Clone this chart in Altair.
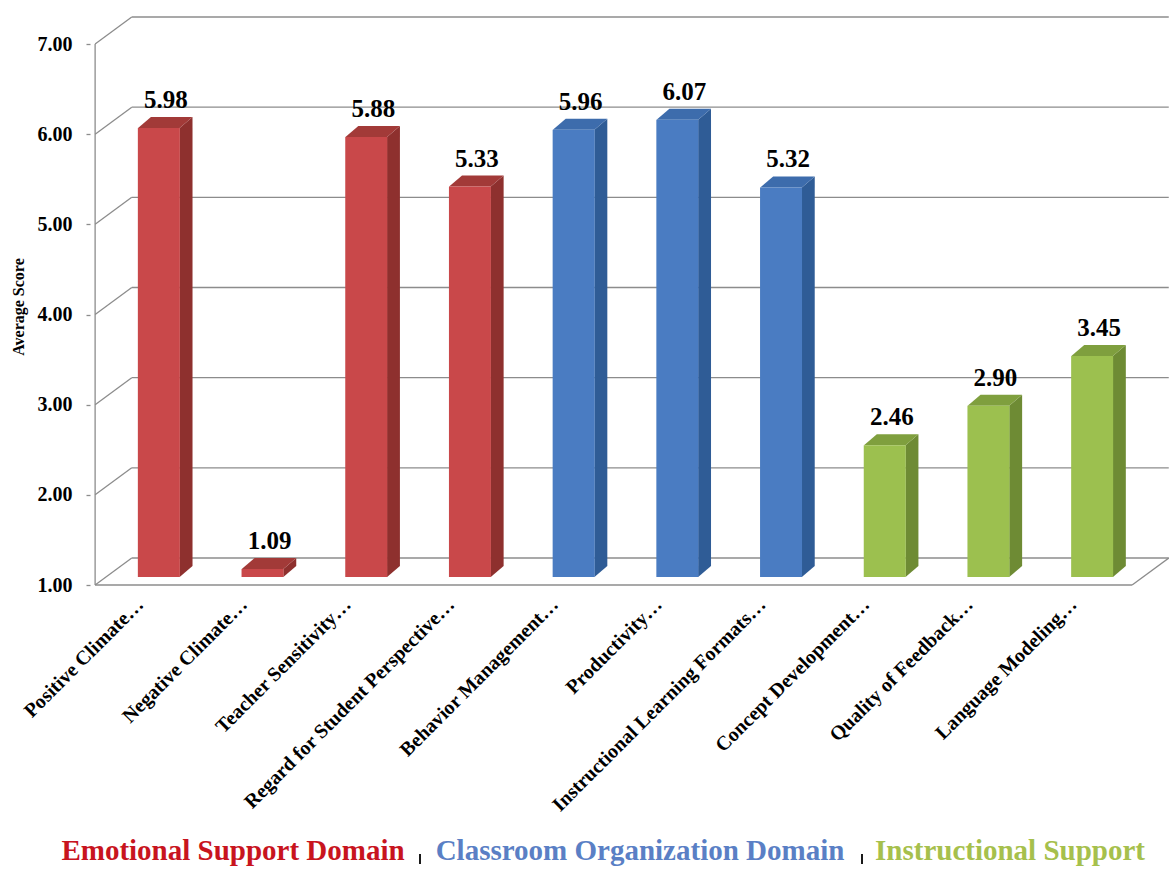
import json
import altair as alt
import pandas as pd

# ---- data ----
categories = [
    "Positive Climate…", "Negative Climate…", "Teacher Sensitivity…",
    "Regard for Student Perspective…", "Behavior Management…", "Productivity…",
    "Instructional Learning Formats…", "Concept Development…",
    "Quality of Feedback…", "Language Modeling…",
]
scores = [5.98, 1.09, 5.88, 5.33, 5.96, 6.07, 5.32, 2.46, 2.90, 3.45]
domains = ["Emotional Support"] * 4 + ["Classroom Organization"] * 3 + ["Instructional Support"] * 3
domain_names = ["Emotional Support", "Classroom Organization", "Instructional Support"]
legend_labels = ["Emotional Support  Domain", "Classroom Organization  Domain", "Instructional Support"]
y_ticks = [1, 2, 3, 4, 5, 6, 7]

# ---- colours ----
front_colors = ["#C9484A", "#4A7CC2", "#9CC04F"]
side_colors = ["#8E302E", "#2F5C96", "#6E8B34"]
top_colors = ["#A23A38", "#3D6CAC", "#7F9F3E"]
legend_colors = ["#C8141E", "#5A7FC5", "#A6C04C"]
grid_color = "#8C8C8C"
SERIF = "Liberation Serif"

# ---- geometry of the bar plane ----
W, H = 1047, 541
Y_MIN, Y_MAX = 1, 7
N = len(categories)
PX_X = W / N                    # pixels per category step
PX_Y = H / (Y_MAX - Y_MIN)      # pixels per score unit


def ux(px):
    return px / PX_X


def uy(px):
    return px / PX_Y


BAR_W = 42          # front face width
DEPTH_X, DEPTH_Y = 13, 11   # bar depth offset (right, up)
FRONT_X, FRONT_Y = -12, 8   # front edge of floor/axis relative to bar plane
BACK_X, BACK_Y = 25, -19    # back wall relative to bar plane

bars = pd.DataFrame({
    "idx": list(range(N)),
    "category": categories,
    "score": scores,
    "domain": domains,
})
bars["base"] = float(Y_MIN)

hw = ux(BAR_W / 2)
dx, dy = ux(DEPTH_X), uy(DEPTH_Y)

side_rows, top_rows = [], []
for i, s, d in zip(range(N), scores, domains):
    r = i + hw
    l = i - hw
    side_rows += [
        {"bar": i, "domain": d, "x": r, "y": s, "y2": Y_MIN},
        {"bar": i, "domain": d, "x": r + dx, "y": s + dy, "y2": Y_MIN + dy},
    ]
    top_rows += [
        {"bar": i, "domain": d, "x": l, "y": s, "y2": s},
        {"bar": i, "domain": d, "x": l + dx, "y": s + dy, "y2": s},
        {"bar": i, "domain": d, "x": r, "y": s + dy, "y2": s},
        {"bar": i, "domain": d, "x": r + dx, "y": s + dy, "y2": s + dy},
    ]
side_df = pd.DataFrame(side_rows)
top_df = pd.DataFrame(top_rows)

# walls, floor and front axis line
fx, fy = ux(FRONT_X), -uy(FRONT_Y)
bx, by = ux(BACK_X), -uy(BACK_Y)
x_lo, x_hi = -0.5, N - 0.5
segs = []
for v in y_ticks:
    segs.append({"x": x_lo + bx, "x2": x_hi + bx, "y": v + by, "y2": v + by})
    segs.append({"x": x_lo + fx, "x2": x_lo + bx, "y": v + fy, "y2": v + by})
segs.append({"x": x_lo + fx, "x2": x_lo + fx, "y": Y_MIN + fy, "y2": Y_MAX + fy})
segs.append({"x": x_lo + fx, "x2": x_hi + fx, "y": Y_MIN + fy, "y2": Y_MIN + fy})
segs.append({"x": x_hi + fx, "x2": x_hi + bx, "y": Y_MIN + fy, "y2": Y_MIN + by})
seg_df = pd.DataFrame(segs)

x_scale = alt.Scale(domain=[x_lo, x_hi], nice=False, zero=False)
y_scale = alt.Scale(domain=[Y_MIN, Y_MAX], nice=False, zero=False)

label_expr = json.dumps(categories, ensure_ascii=False) + "[datum.value]"

x_axis = alt.Axis(
    values=list(range(N)), labelExpr=label_expr, labelAngle=-45,
    labelFont=SERIF, labelFontWeight="bold", labelFontSize=20, labelColor="black",
    ticks=False, domain=False, grid=False, offset=FRONT_Y, tickOffset=FRONT_X + 2,
    labelOffset=-16, labelPadding=9, labelLimit=0,
    labelFlush=False, labelOverlap=False, labelBound=False, title=None,
)
y_axis = alt.Axis(
    values=y_ticks, format=".2f", offset=-FRONT_X, tickOffset=FRONT_Y,
    domain=False, grid=False, tickSize=4, tickColor=grid_color, tickWidth=1.3,
    labelFont=SERIF, labelFontWeight="bold", labelFontSize=20, labelColor="black",
    labelPadding=14, title="Average Score", titleFont=SERIF, titleFontWeight="bold",
    titleFontSize=16, titleColor="black", titlePadding=11,
)

walls = alt.Chart(seg_df).mark_rule(color=grid_color, strokeWidth=1.3).encode(
    x=alt.X("x:Q", scale=x_scale, axis=x_axis),
    x2="x2:Q",
    y=alt.Y("y:Q", scale=y_scale, axis=y_axis),
    y2="y2:Q",
)

sides = alt.Chart(side_df).mark_area(orient="vertical").encode(
    x=alt.X("x:Q", scale=x_scale, axis=x_axis),
    y=alt.Y("y:Q", scale=y_scale, axis=y_axis),
    y2="y2:Q",
    detail="bar:N",
    color=alt.Color("domain:N", scale=alt.Scale(domain=domain_names, range=side_colors), legend=None),
)

tops = alt.Chart(top_df).mark_area(orient="vertical").encode(
    x=alt.X("x:Q", scale=x_scale, axis=x_axis),
    y=alt.Y("y:Q", scale=y_scale, axis=y_axis),
    y2="y2:Q",
    detail="bar:N",
    color=alt.Color("domain:N", scale=alt.Scale(domain=domain_names, range=top_colors), legend=None),
)

fronts = alt.Chart(bars).mark_bar(size=BAR_W).encode(
    x=alt.X("idx:Q", scale=x_scale, axis=x_axis),
    y=alt.Y("score:Q", scale=y_scale, axis=y_axis),
    y2="base:Q",
    color=alt.Color("domain:N", scale=alt.Scale(domain=domain_names, range=front_colors), legend=None),
)

values = alt.Chart(bars).mark_text(
    font=SERIF, fontWeight="bold", fontSize=25,
    baseline="middle", align="center", dy=-28, dx=7,
).encode(
    x=alt.X("idx:Q", scale=x_scale, axis=x_axis),
    y=alt.Y("score:Q", scale=y_scale, axis=y_axis),
    text=alt.Text("score:Q", format=".2f"),
    color=alt.value("black"),
)

# domain key along the bottom
key_layers = []
key_x = [131, 538, 908]
for lbl, col, kx in zip(legend_labels, legend_colors, key_x):
    key_layers.append(
        alt.Chart(alt.Data(values=[{}])).mark_text(
            text=lbl, font=SERIF, fontWeight="bold", fontSize=29,
            align="center", baseline="middle",
        ).encode(x=alt.value(kx), y=alt.value(815), color=alt.value(col))
    )
# short dark dividers between the key entries
for sx in [318, 760]:
    key_layers.append(
        alt.Chart(alt.Data(values=[{}])).mark_rule(color="#1A1A1A", strokeWidth=2).encode(
            x=alt.value(sx), y=alt.value(818), y2=alt.value(828)
        )
    )

chart = alt.layer(walls, sides, tops, fronts, values, *key_layers).resolve_scale(
    color="independent"
).properties(
    width=W, height=H,
    autosize=alt.AutoSizeParams(type="none"),
    padding={"left": 102, "top": 36, "right": 20, "bottom": 869 - 36 - H},
    background="white",
).configure_view(stroke=None)

chart.save("out.html", embed_options={"renderer": "svg", "actions": False})
